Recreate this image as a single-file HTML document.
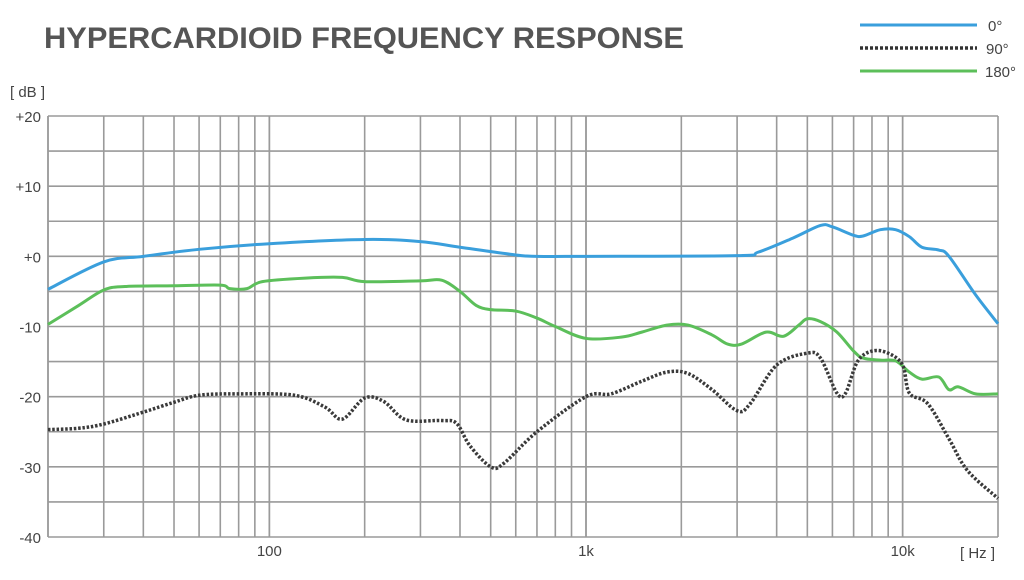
<!DOCTYPE html>
<html><head><meta charset="utf-8"><style>
body{margin:0;background:#fff;}
svg{display:block;font-family:"Liberation Sans",Arial,sans-serif;}
</style></head><body>
<svg width="1024" height="580" viewBox="0 0 1024 580">
<text x="44" y="48" font-size="30" font-weight="bold" fill="#555" textLength="640" lengthAdjust="spacingAndGlyphs">HYPERCARDIOID FREQUENCY RESPONSE</text>
<g id="legend">
<line x1="860" y1="25" x2="977" y2="25" stroke="#3a9fdc" stroke-width="3"/>
<text x="988" y="31" font-size="15" fill="#444">0°</text>
<line x1="860" y1="48" x2="977" y2="48" stroke="#333" stroke-width="3.5" stroke-dasharray="3,2"/>
<text x="986" y="54" font-size="15" fill="#444">90°</text>
<line x1="860" y1="71" x2="977" y2="71" stroke="#5cbf5a" stroke-width="3"/>
<text x="985" y="77" font-size="15" fill="#444">180°</text>
</g>
<text x="10" y="97" font-size="15" fill="#444">[ dB ]</text>
<text x="960" y="558" font-size="15" fill="#444">[ Hz ]</text>
<g id="grid"></g>
<g id="series"></g>
<g id="labels"></g>
</svg>
<script>
const freqs0=[20,30,40,60,100,200,300,400,600,700,1000,3000,3500,4500,5500,6000,7000,7500,8500,9500,10500,11500,13000,14000,17000,20000];
const db0=[-4.7,-0.8,0,1,1.8,2.4,2.1,1.3,0.2,0,0,0.1,0.6,2.6,4.4,4.2,3,2.9,3.8,3.8,2.8,1.3,0.9,0,-5.5,-9.6];
const freqs180=[20,25,30,35,50,70,75,85,95,130,170,200,300,350,400,450,500,600,700,800,1000,1300,1500,1800,2100,2500,2800,3100,3700,4200,4700,5000,5500,6200,7000,7500,8500,9500,10500,11500,13000,14000,15000,17000,20000];
const db180=[-9.7,-7,-4.8,-4.3,-4.2,-4.1,-4.6,-4.6,-3.6,-3.1,-3,-3.6,-3.5,-3.4,-5,-7,-7.6,-7.8,-8.8,-10,-11.7,-11.5,-10.8,-9.8,-9.8,-11.2,-12.5,-12.5,-10.8,-11.4,-9.8,-8.9,-9.3,-10.8,-13.5,-14.5,-14.8,-14.9,-16.5,-17.5,-17.2,-19,-18.6,-19.6,-19.6];
const freqs90=[20,25,30,40,50,60,80,120,150,170,200,230,270,350,390,430,500,550,700,1000,1200,1500,1800,2100,2500,3000,3300,4000,5000,5500,6200,6600,7200,8000,9000,10000,10500,12000,14000,16000,20000];
const db90=[-24.7,-24.5,-23.9,-22.2,-20.8,-19.8,-19.6,-19.8,-21.5,-23.2,-20.2,-20.7,-23.3,-23.4,-23.8,-27,-30,-29.5,-25,-20,-19.6,-17.8,-16.5,-16.7,-19,-22,-21,-15.5,-13.8,-14.5,-19.5,-19.5,-15,-13.5,-13.8,-15.5,-19.5,-21,-26,-30.5,-34.5];
const yTicks=[20,10,0,-10,-20,-30,-40];
const yTickLabels=["+20","+10","+0","-10","-20","-30","-40"];
const xTicks=[100,1000,10000];
const xTickLabels=["100","1k","10k"];
const X0=48,X1=998,Y0=116,Y1=537,FMIN=20,FMAX=20000,DBMAX=20,DBMIN=-40;
const NS="http://www.w3.org/2000/svg";
function xs(f){return X0+(Math.log10(f)-Math.log10(FMIN))/(Math.log10(FMAX)-Math.log10(FMIN))*(X1-X0);}
function ys(d){return Y0+(DBMAX-d)/(DBMAX-DBMIN)*(Y1-Y0);}
const grid=document.getElementById('grid');
function ln(x1,y1,x2,y2,name){const l=document.createElementNS(NS,'line');l.setAttribute('x1',x1);l.setAttribute('y1',y1);l.setAttribute('x2',x2);l.setAttribute('y2',y2);l.setAttribute('stroke','#9a9a9a');l.setAttribute('stroke-width','1.6');


grid.appendChild(l);}
for(let d=DBMIN;d<=DBMAX;d+=5){ln(X0,ys(d),X1,ys(d),'grid-h');}
for(let dec=10;dec<=10000;dec*=10){for(let m=1;m<=10;m++){const f=dec*m;if(f<FMIN||f>FMAX)continue;ln(xs(f),Y0,xs(f),Y1,'grid-v');}}
ln(X0,Y0,X0,Y1,'plot-border-left');
const labels=document.getElementById('labels');
function txt(x,y,s,anchor,name){const t=document.createElementNS(NS,'text');t.setAttribute('x',x);t.setAttribute('y',y);t.setAttribute('font-size','15');t.setAttribute('fill','#444');t.setAttribute('text-anchor',anchor);t.textContent=s;


labels.appendChild(t);}
yTicks.forEach((d,i)=>txt(41,ys(d)+6,yTickLabels[i],'end','y-tick-label'));
xTicks.forEach((f,i)=>txt(xs(f),556,xTickLabels[i],'middle','x-tick-label'));
const series=document.getElementById('series');
function path(fs,ds,color,dash,w,name){
 const pts=fs.map((f,i)=>[xs(f),ys(ds[i])]);
 let d='M'+pts[0][0]+','+pts[0][1];
 for(let i=0;i<pts.length-1;i++){const p0=pts[i-1]||pts[i],p1=pts[i],p2=pts[i+1],p3=pts[i+2]||p2;
  const c1x=p1[0]+(p2[0]-p0[0])/6,c1y=p1[1]+(p2[1]-p0[1])/6,c2x=p2[0]-(p3[0]-p1[0])/6,c2y=p2[1]-(p3[1]-p1[1])/6;
  d+=' C'+c1x+','+c1y+' '+c2x+','+c2y+' '+p2[0]+','+p2[1];}
 const p=document.createElementNS(NS,'path');p.setAttribute('d',d);p.setAttribute('fill','none');p.setAttribute('stroke',color);p.setAttribute('stroke-width',w);p.setAttribute('stroke-linejoin','round');
 if(dash)p.setAttribute('stroke-dasharray',dash);
 
 
 series.appendChild(p);}
path(freqs180,db180,'#5cbf5a',null,3,'series-180deg');
path(freqs90,db90,'#3a3a3a','2.5,1.8',3.5,'series-90deg');
path(freqs0,db0,'#3a9fdc',null,3,'series-0deg');
</script>
</body></html>
